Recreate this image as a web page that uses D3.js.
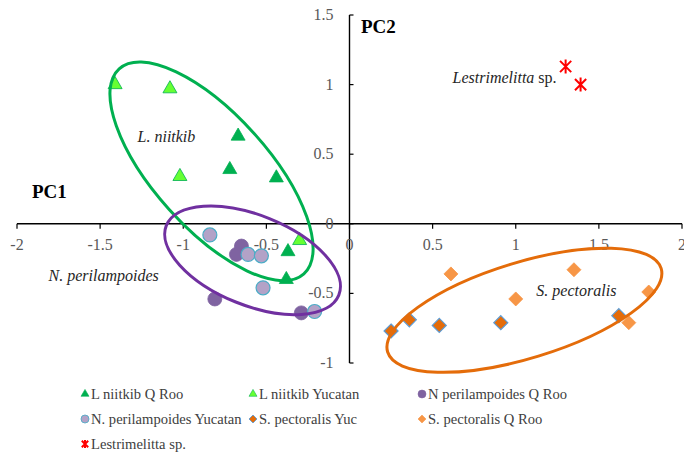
<!DOCTYPE html>
<html>
<head>
<meta charset="utf-8">
<script src="https://cdn.jsdelivr.net/npm/d3@7"></script>
<style>
  body { margin: 0; background: #fff; }
</style>
</head>
<body>
<div id="chart"></div>
<script>
// PCA scores, [PC1, PC2]
var lniitkibQRoo = [[-0.67, 0.63], [-0.72, 0.39], [-0.44, 0.33], [-0.37, -0.20], [-0.38, -0.40]];
var lniitkibYucatan = [[-1.41, 1.00], [-1.08, 0.97], [-1.02, 0.34], [-0.30, -0.12]];
var nperiQRoo = [[-0.65, -0.16], [-0.68, -0.22], [-0.81, -0.54], [-0.29, -0.64]];
var nperiYucatan = [[-0.84, -0.08], [-0.61, -0.22], [-0.53, -0.23], [-0.52, -0.46], [-0.21, -0.63]];
var spectYuc = [[0.25, -0.77], [0.36, -0.69], [0.54, -0.73], [0.91, -0.71], [1.62, -0.66]];
var spectQRoo = [[0.61, -0.36], [1.00, -0.54], [1.35, -0.33], [1.80, -0.49], [1.68, -0.71]];
var lestrimelitta = [[1.30, 1.13], [1.39, 1.00]];

var seriesNames = ["L niitkib Q Roo", "L niitkib Yucatan", "N perilampoides Q Roo",
  "N. perilampoides Yucatan", "S. pectoralis Yuc", "S. pectoralis Q Roo", "Lestrimelitta sp."];

var xTicks = [-2, -1.5, -1, -0.5, 0, 0.5, 1, 1.5, 2];
var yTicks = [-1, -0.5, 0, 0.5, 1, 1.5];

// group ellipses: centre in PC units
var groupCentres = [[-0.83, 0.377], [-0.583, -0.262], [1.052, -0.621]];
var groupNames = [
  [["L. niitkib", true]],
  [["N. perilampoides", true]],
  [["S. pectoralis", true]],
  [["Lestrimelitta", true], [" sp.", false]]
];
var groupLabelAt = [[-1.275, 0.585], [-1.81, -0.413], [1.124, -0.52], [0.62, 1.008]];

(function () {
  var W = 684, H = 455, FONT = "Liberation Serif";
  var svg = d3.select("#chart").append("svg").attr("width", W).attr("height", H);

  var x = d3.scaleLinear().domain([-2, 2]).range([17, 682]);
  var y = d3.scaleLinear().domain([-1, 1.5]).range([363, 15]);

  function label(px, py, size, color) {
    return svg.append("text").attr("x", px).attr("y", py)
      .attr("font-family", FONT).attr("font-size", size).attr("fill", color);
  }

  var styles = [
    {shape: "tri", fill: "#00B050", stroke: "#00B050", sw: 0.8},
    {shape: "tri", fill: "#66FF33", stroke: "#00B050", sw: 0.8},
    {shape: "circ", fill: "#7F63A1", stroke: "#7F63A1", sw: 0.8},
    {shape: "circ", fill: "#B3A2C7", stroke: "#4BACC6", sw: 1.2},
    {shape: "dia", fill: "#E46C0A", stroke: "#5B9BD5", sw: 1.2},
    {shape: "dia", fill: "#F79646", stroke: "#F79646", sw: 0.8},
    {shape: "star", fill: "none", stroke: "#FF0000", sw: 2}
  ];
  var seriesData = [lniitkibQRoo, lniitkibYucatan, nperiQRoo, nperiYucatan, spectYuc, spectQRoo, lestrimelitta];

  function markerPath(shape, s) {
    if (shape === "tri") {
      return d3.symbol(d3.symbolTriangle, s * s * Math.sqrt(3) / 4)();
    }
    if (shape === "circ") {
      return d3.symbol(d3.symbolCircle, Math.PI * s * s / 4)();
    }
    if (shape === "dia") {
      var h = s / 2;
      return "M0," + (-h) + "L" + h + ",0L0," + h + "L" + (-h) + ",0Z";
    }
    var r = s / 2, d = r * 0.8;
    return "M" + (-d) + "," + (-d) + "L" + d + "," + d +
      "M" + d + "," + (-d) + "L" + (-d) + "," + d +
      "M0," + (-r) + "L0," + r;
  }

  // axes
  svg.append("line").attr("x1", x(-2)).attr("x2", x(2)).attr("y1", y(0)).attr("y2", y(0))
    .attr("stroke", "#000").attr("stroke-width", 1.4);
  svg.append("line").attr("x1", x(0)).attr("x2", x(0)).attr("y1", y(1.5)).attr("y2", y(-1))
    .attr("stroke", "#000").attr("stroke-width", 1.4);

  xTicks.forEach(function (t) {
    svg.append("line").attr("x1", x(t)).attr("x2", x(t)).attr("y1", y(0)).attr("y2", y(0) + 5)
      .attr("stroke", "#000").attr("stroke-width", 1.2);
    label(x(t), y(0) + 26, 16, "#595959").attr("text-anchor", "middle").text(t);
  });
  yTicks.forEach(function (t) {
    svg.append("line").attr("x1", x(0)).attr("x2", x(0) + 4).attr("y1", y(t)).attr("y2", y(t))
      .attr("stroke", "#000").attr("stroke-width", 1.2);
    label(x(0) - 16, y(t) + 5, 16, "#595959").attr("text-anchor", "end").text(t);
  });

  label(32, 198, 19, "#000").attr("font-weight", "bold").text("PC1");
  label(361, 33, 19, "#000").attr("font-weight", "bold").text("PC2");

  // points
  seriesData.forEach(function (pts, i) {
    var st = styles[i];
    svg.append("g").selectAll("path").data(pts).enter().append("path")
      .attr("transform", function (d) { return "translate(" + x(d[0]) + "," + y(d[1]) + ")"; })
      .attr("d", markerPath(st.shape, 14))
      .attr("fill", st.fill).attr("stroke", st.stroke).attr("stroke-width", st.sw);
  });

  // ellipses
  var ringShape = [
    {a: 138, b: 57, rot: 48, color: "#00B050"},
    {a: 93, b: 45, rot: 22, color: "#7030A0"},
    {a: 143, b: 48, rot: -17, color: "#E46C0A"}
  ];
  groupCentres.forEach(function (c, i) {
    var r = ringShape[i];
    svg.append("ellipse")
      .attr("transform", "translate(" + x(c[0]) + "," + y(c[1]) + ") rotate(" + r.rot + ")")
      .attr("rx", r.a).attr("ry", r.b)
      .attr("fill", "none").attr("stroke", r.color).attr("stroke-width", 3);
  });

  // group labels
  groupNames.forEach(function (parts, i) {
    var t = label(x(groupLabelAt[i][0]), y(groupLabelAt[i][1]), 16, "#262626");
    parts.forEach(function (p) {
      t.append("tspan").attr("font-style", p[1] ? "italic" : "normal").text(p[0]);
    });
  });

  // legend
  var colX = [85, 253, 422], rowY = [394, 419, 444];
  seriesNames.forEach(function (name, i) {
    var st = styles[i];
    var cx = colX[i % 3], cy = rowY[Math.floor(i / 3)];
    svg.append("path").attr("transform", "translate(" + cx + "," + cy + ")")
      .attr("d", markerPath(st.shape, 8))
      .attr("fill", st.fill).attr("stroke", st.stroke)
      .attr("stroke-width", st.shape === "star" ? 2 : st.sw * 0.7);
    label(cx + 6, cy + 5, 14.6, "#404040").text(name);
  });
}());
</script>
</body>
</html>
